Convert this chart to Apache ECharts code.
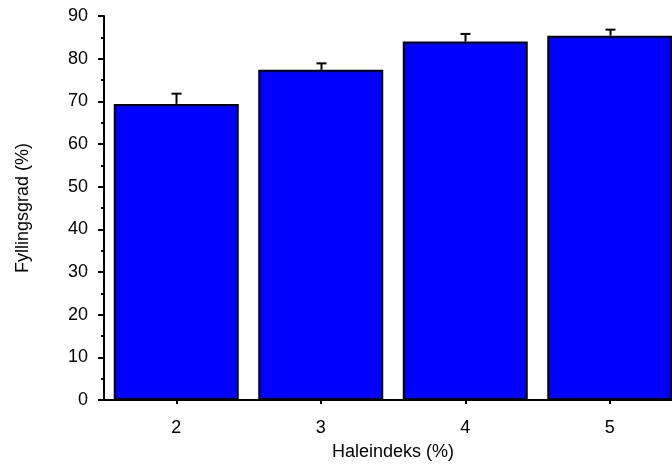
<!DOCTYPE html>
<html><head><meta charset="utf-8">
<script src="https://cdn.jsdelivr.net/npm/echarts@6/dist/echarts.min.js"></script>
<style>html,body{margin:0;padding:0;overflow:hidden;background:#fff;width:672px;height:467px}#c{width:682px;height:467px}</style>
</head><body><div id="c"></div>
<script>
const categories = ['2', '3', '4', '5'];
const means = [69.4, 77.4, 84.0, 85.4];
const errUpper = [71.8, 78.9, 85.8, 86.8];
const yTicks = [0, 10, 20, 30, 40, 50, 60, 70, 80, 90];

const chart = echarts.init(document.getElementById('c'), null, {renderer: 'canvas'});
const font = 'Liberation Sans, Arial, sans-serif';
chart.setOption({
  animation: false,
  grid: {left: 104, right: 0, top: 16, bottom: 67},
  xAxis: {
    type: 'category', data: categories,
    name: 'Haleindeks (%)', nameLocation: 'middle', nameGap: 43,
    nameTextStyle: {fontFamily: font, fontSize: 18, color: '#000'},
    axisLine: {lineStyle: {color: '#000', width: 2}},
    axisTick: {show: true, alignWithLabel: true, length: 4, lineStyle: {color: '#000', width: 2}},
    axisLabel: {fontFamily: font, fontSize: 18, color: '#000', margin: 19}
  },
  yAxis: {
    type: 'value', min: yTicks[0], max: yTicks[yTicks.length - 1], interval: 10,
    name: 'Fyllingsgrad (%)', nameLocation: 'middle', nameGap: 72, nameRotate: 90,
    nameTextStyle: {fontFamily: font, fontSize: 18, color: '#000'},
    axisLine: {show: true, lineStyle: {color: '#000', width: 2}},
    axisTick: {show: true, length: 6, lineStyle: {color: '#000', width: 2}},
    minorTick: {show: true, splitNumber: 2, length: 3, lineStyle: {color: '#000', width: 2}},
    splitLine: {show: false},
    axisLabel: {fontFamily: font, fontSize: 18, color: '#000', margin: 16}
  },
  series: [
    {
      type: 'bar', data: means, barWidth: 125,
      itemStyle: {color: '#0000ff', borderColor: '#000', borderWidth: 2}
    },
    {
      type: 'custom', z: 5,
      data: categories.map((c, i) => [i, means[i], errUpper[i]]),
      renderItem: function (params, api) {
        const base = api.coord([api.value(0), api.value(1)]);
        const top = api.coord([api.value(0), api.value(2)]);
        const x = Math.round(base[0]) + 0.5;
        return {
          type: 'group', children: [
            {type: 'line', shape: {x1: x, y1: base[1], x2: x, y2: top[1]}, style: {stroke: '#000', lineWidth: 2}},
            {type: 'line', shape: {x1: x - 5, y1: top[1], x2: x + 5, y2: top[1]}, style: {stroke: '#000', lineWidth: 2}}
          ]
        };
      }
    }
  ]
});
</script></body></html>
